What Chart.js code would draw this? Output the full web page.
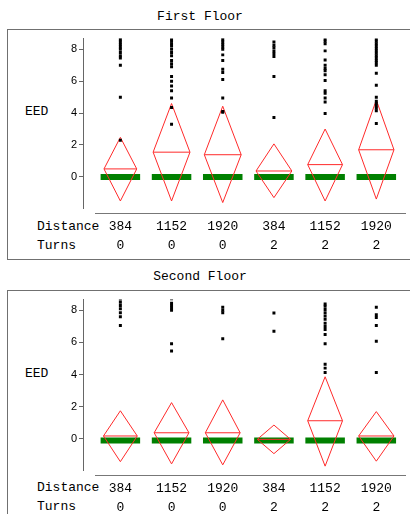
<!DOCTYPE html>
<html>
<head>
<meta charset="utf-8">
<script src="https://cdn.jsdelivr.net/npm/chart.js@4"></script>
<style>
    body { margin: 0; background: #fff; font-family: 'Liberation Mono', monospace; font-size: 13px; color: #000; }
    #page { position: relative; width: 410px; height: 514px; overflow: hidden; }
    .title { position: absolute; left: 0; width: 400px; text-align: center; line-height: 16px; }
    .box { position: absolute; left: 7px; width: 430px; border: 1px solid #707070; }
    .lbl { position: absolute; line-height: 16px; }
    canvas { position: absolute; left: 0; }
</style>
</head>
<body>
<div id="page">
    <div class="title" style="top:9px;">First Floor</div>
    <div class="box" style="top:29px;height:229px;"></div>
    <div class="lbl" style="left:25px;top:104px;">EED</div>
    <div class="lbl" style="left:37px;top:219px;">Distance</div>
    <div class="lbl" style="left:37px;top:238px;">Turns</div>
    <canvas id="first" width="410" height="228" style="top:30px;"></canvas>

    <div class="title" style="top:269px;">Second Floor</div>
    <div class="box" style="top:290px;height:260px;"></div>
    <div class="lbl" style="left:25px;top:366px;">EED</div>
    <div class="lbl" style="left:37px;top:480px;">Distance</div>
    <div class="lbl" style="left:37px;top:499px;">Turns</div>
    <canvas id="second" width="410" height="223" style="top:291px;"></canvas>
</div>
<script>
// Categories (x axis, two label rows)
const distances = ['384', '1152', '1920', '384', '1152', '1920'];
const turns = ['0', '0', '0', '2', '2', '2'];
const yTicks = [0, 2, 4, 6, 8];

// First floor: means diamonds (mean, upper/lower CI), relative group width, median bar
const firstMean  = [0.50, 1.55, 1.39, 0.37, 0.77, 1.70];
const firstUpper = [2.48, 4.60, 4.43, 2.07, 3.00, 4.82];
const firstLower = [-1.51, -1.51, -1.61, -1.30, -1.51, -1.39];
const firstWidth = [0.32, 0.36, 0.36, 0.35, 0.34, 0.345];
const firstMedian = [0, 0, 0, 0, 0, 0];
const firstOutliers = [
    [8.75, 8.6, 8.45, 8.3, 8.15, 8.0, 7.8, 7.6, 7.45, 7.0, 5.0, 2.3],
    [8.8, 8.65, 8.5, 8.35, 8.2, 8.0, 7.8, 7.6, 7.3, 7.1, 6.9, 6.3, 6.0, 5.7, 5.4, 4.95, 4.35, 3.3],
    [8.75, 8.6, 8.45, 8.3, 8.15, 8.0, 7.65, 7.3, 6.75, 6.55, 6.1, 4.95, 4.1, 4.05],
    [8.45, 8.25, 8.1, 7.9, 7.73, 7.55, 6.3, 3.72],
    [8.65, 8.5, 8.35, 7.9, 7.33, 7.0, 6.8, 6.65, 6.4, 6.05, 5.4, 5.25, 4.95, 4.7, 3.97],
    [8.8, 8.65, 8.5, 8.35, 8.2, 8.05, 7.9, 7.75, 7.6, 7.45, 7.3, 7.15, 7.0, 6.5, 5.75, 5.0, 4.75, 4.6, 4.45, 4.3, 4.15, 3.35]
];

// Second floor
const secondMean  = [0.17, 0.37, 0.37, -0.04, 1.12, 0.17];
const secondUpper = [1.74, 2.25, 2.42, 0.85, 3.86, 1.69];
const secondLower = [-1.43, -1.57, -1.63, -0.93, -1.71, -1.40];
const secondWidth = [0.33, 0.34, 0.34, 0.325, 0.34, 0.345];
const secondMedian = [-0.11, -0.11, -0.11, -0.11, -0.11, -0.11];
const secondOutliers = [
    [8.7, 8.5, 8.3, 8.1, 7.85, 7.6, 7.05],
    [8.72, 8.45, 8.3, 8.15, 8.0, 5.92, 5.46],
    [8.19, 8.0, 7.85, 6.23],
    [7.84, 6.7],
    [8.4, 8.25, 8.05, 7.85, 7.65, 7.45, 7.2, 7.0, 6.8, 6.5, 5.92, 4.64, 4.4, 4.12],
    [8.19, 7.73, 7.55, 7.05, 6.08, 4.12]
];

const RED = '#ff2a2a';
const GREEN = '#008000';
const MONO = "'Liberation Mono', monospace";

// separate x axis line, offset from the y axis like the original
const xAxisLine = {
    id: 'xAxisLine',
    afterDraw(chart) {
        const a = chart.chartArea;
        const c = chart.ctx;
        c.save();
        c.strokeStyle = '#777';
        c.lineWidth = 1;
        c.beginPath();
        c.moveTo(a.left + 12, a.bottom + 5.5);
        c.lineTo(a.right, a.bottom + 5.5);
        c.stroke();
        c.restore();
    }
};

function makeChart(id, mean, upper, lower, width, median, outliers, xHeight) {
    const points = [];
    outliers.forEach((vals, i) => vals.forEach(v => points.push({ x: i + 1, y: v })));

    const datasets = [{
        data: points,
        pointStyle: 'rect',
        pointRadius: 2.1,
        pointBorderWidth: 0,
        pointBackgroundColor: '#000',
        showLine: false
    }];

    mean.forEach((m, i) => {
        const x = i + 1, w = width[i];
        datasets.push({
            data: [{ x: x - w, y: m }, { x: x, y: upper[i] }, { x: x + w, y: m },
                   { x: x, y: lower[i] }, { x: x - w, y: m }],
            showLine: true, borderColor: RED, borderWidth: 1, pointRadius: 0
        });
        datasets.push({
            data: [{ x: x - w, y: m }, { x: x + w, y: m }],
            showLine: true, borderColor: RED, borderWidth: 1, pointRadius: 0
        });
    });

    median.forEach((md, i) => {
        const x = i + 1;
        datasets.push({
            data: [{ x: x - 0.386, y: md }, { x: x + 0.386, y: md }],
            showLine: true, borderColor: GREEN, borderWidth: 6, borderCapStyle: 'butt', pointRadius: 0
        });
    });

    return new Chart(document.getElementById(id), {
        type: 'scatter',
        data: { datasets },
        options: {
            responsive: false,
            animation: false,
            layout: { padding: { top: 7, left: 0, right: 0, bottom: 0 } },
            plugins: { legend: { display: false }, tooltip: { enabled: false } },
            scales: {
                x: {
                    type: 'linear',
                    min: 0.27,
                    max: 6.58,
                    afterFit: s => { s.height = xHeight; },
                    afterBuildTicks: s => { s.ticks = distances.map((d, i) => ({ value: i + 1 })); },
                    grid: { display: false, drawTicks: false },
                    border: { display: false },
                    ticks: {
                        padding: 9,
                        color: '#000',
                        maxRotation: 0,
                        autoSkip: false,
                        font: { family: MONO, size: 13, lineHeight: 19 / 13 },
                        callback: v => [distances[v - 1], turns[v - 1]]
                    }
                },
                y: {
                    min: -1.95,
                    max: 8.67,
                    afterFit: s => { s.width = 83; },
                    afterBuildTicks: s => { s.ticks = yTicks.map(v => ({ value: v })); },
                    grid: { drawOnChartArea: false, drawTicks: true, tickLength: 4, color: '#666' },
                    border: { display: true, color: '#666', width: 1 },
                    ticks: {
                        padding: 2,
                        color: '#000',
                        font: { family: "'Liberation Sans', sans-serif", size: 11 }
                    }
                }
            }
        },
        plugins: [xAxisLine]
    });
}

makeChart('first', firstMean, firstUpper, firstLower, firstWidth, firstMedian, firstOutliers, 50);
makeChart('second', secondMean, secondUpper, secondLower, secondWidth, secondMedian, secondOutliers, 44);
</script>
</body>
</html>
